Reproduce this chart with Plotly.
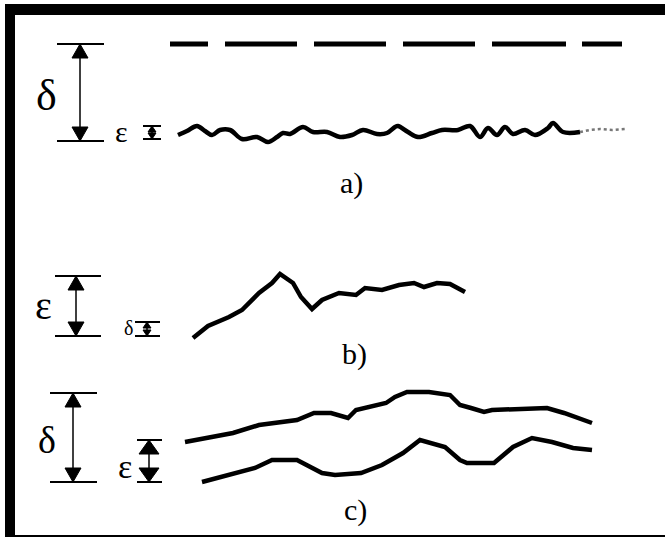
import plotly.graph_objects as go

W, H = 665, 539

# ---------------- data (pixel-space diagram coordinates) ----------------
# panel a: dashed outer boundary and fine rough surface
dash_a_x = [170, 622]
dash_a_y = [44, 44]
rough_a_x = [178, 187, 197, 205, 212, 220, 230, 242, 257, 268, 277, 283, 290, 303, 313, 327, 340,
             352, 363, 377, 387, 395, 398, 408, 418, 432, 442, 458, 470, 480, 488, 497, 505, 513,
             525, 535, 548, 553, 563, 580]
rough_a_y = [135, 131, 126, 131, 135, 130, 130, 139, 137, 142, 137, 133, 134, 127, 132, 132, 137,
             135, 130, 134, 133, 127, 126, 132, 137, 133, 130, 130, 126, 137, 128, 135, 127, 134,
             130, 135, 128, 123, 132, 132]
fade_a_x = [580, 590, 600, 612, 625]
fade_a_y = [132, 130, 129, 130, 129]

# panel b: coarse rough surface
rough_b_x = [193, 208, 229, 242, 259, 272, 280, 293, 301, 312, 322, 339, 356, 365, 382, 399, 414,
             424, 437, 450, 465]
rough_b_y = [338, 326, 317, 310, 293, 283, 274, 283, 297, 309, 300, 293, 295, 288, 290, 285, 283,
             287, 283, 284, 292]

# panel c: two wavy boundaries
upper_c_x = [185, 208, 233, 259, 297, 314, 331, 348, 356, 386, 395, 407, 429, 450, 460, 471, 484,
             492, 530, 547, 564, 592]
upper_c_y = [442, 438, 433, 425, 420, 413, 413, 418, 410, 403, 397, 392, 392, 395, 405, 408, 412,
             410, 408, 408, 413, 423]
lower_c_x = [202, 229, 255, 272, 297, 322, 335, 361, 382, 403, 420, 445, 460, 467, 494, 513, 532,
             552, 573, 592]
lower_c_y = [482, 475, 468, 460, 460, 473, 475, 473, 465, 453, 440, 447, 460, 463, 463, 447, 438,
             442, 448, 450]

# text labels
label_text = ["δ", "ε", "a)", "ε", "δ", "b)", "δ", "ε", "c)"]
label_x = [46, 121, 351, 43, 128, 354, 47, 125, 355]
label_y = [95, 131, 183, 305, 328, 354, 440, 466, 510]
label_size = [44, 30, 30, 40, 20, 30, 38, 34, 30]

# dimension arrows: x, top, bottom, tick left, tick right, head height, head half-width, line width
arrows = [
    (80, 44, 141, 57, 104, 14, 8, 1.5),
    (152, 126, 139, 143, 161, 6, 4, 1.5),
    (76, 276, 336, 55, 101, 14, 8, 1.5),
    (147, 322, 336, 135, 160, 6, 4, 1.5),
    (73, 393, 482, 50, 97, 14, 8, 1.5),
    (149, 440, 482, 137, 162, 14, 10, 1.5),
]

# ---------------- figure ----------------
fig = go.Figure()
blk = "black"


def line(xs, ys, width, color=blk, dash=None, shape="linear"):
    fig.add_trace(go.Scatter(x=xs, y=ys, mode="lines", hoverinfo="skip",
                             line=dict(color=color, width=width, dash=dash, shape=shape)))


def head(x, ytip, ybase, hw):
    fig.add_trace(go.Scatter(x=[x, x - hw, x + hw, x], y=[ytip, ybase, ybase, ytip],
                             mode="lines", fill="toself", fillcolor=blk, hoverinfo="skip",
                             line=dict(color=blk, width=1)))


for (ax, y0, y1, tl, tr, hh, hw, lw) in arrows:
    line([ax, ax], [y0, y1], lw)
    line([tl, tr], [y0, y0], 2)
    line([tl, tr], [y1, y1], 2)
    head(ax, y0, y0 + hh, hw)
    head(ax, y1, y1 - hh, hw)

line(dash_a_x, dash_a_y, 5, dash="38px,17px,72px,17px,72px,17px,72px,17px,74px,16px,40px,200px")
line(rough_a_x, rough_a_y, 4.5, shape="spline")
line(fade_a_x, fade_a_y, 2.5, color="#777777", dash="dot")
line(rough_b_x, rough_b_y, 4.5)
line(upper_c_x, upper_c_y, 4.5)
line(lower_c_x, lower_c_y, 4.5)

for t, x, y, s in zip(label_text, label_x, label_y, label_size):
    fig.add_annotation(x=x, y=y, text=t, showarrow=False, xanchor="center", yanchor="middle",
                       font=dict(family="Liberation Serif", size=s, color=blk))

# frame
fig.add_shape(type="rect", x0=5, x1=15, y0=4, y1=537, fillcolor=blk, line=dict(width=0), layer="above")
fig.add_shape(type="rect", x0=5, x1=665, y0=4, y1=15, fillcolor=blk, line=dict(width=0), layer="above")
fig.add_shape(type="line", x0=5, x1=665, y0=536, y1=536, line=dict(color=blk, width=2))

fig.update_layout(
    width=W, height=H, margin=dict(l=0, r=0, t=0, b=0),
    paper_bgcolor="white", plot_bgcolor="white", showlegend=False,
    xaxis=dict(range=[0, W], visible=False, fixedrange=True),
    yaxis=dict(range=[H, 0], visible=False, fixedrange=True),
)

fig.write_html("out.html", config={"displayModeBar": False},
               post_script="document.body.style.margin='0';")
